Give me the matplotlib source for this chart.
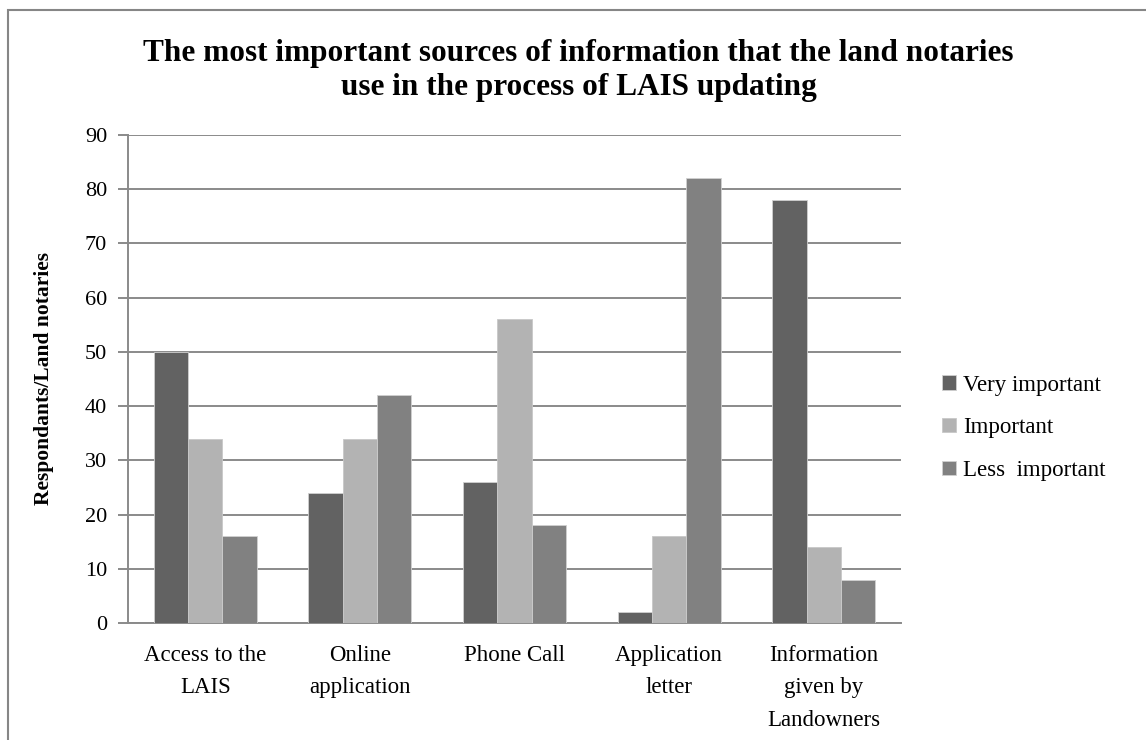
import matplotlib.pyplot as plt
import numpy as np
from matplotlib.patches import Rectangle

plt.rcParams['font.family'] = ['Liberation Serif', 'DejaVu Serif']

categories = ['Access to the\nLAIS', 'Online\napplication', 'Phone Call',
              'Application\nletter', 'Information\ngiven by\nLandowners']
series_names = ['Very important', 'Important', 'Less  important']
very_important = [50, 24, 26, 2, 78]
important = [34, 34, 56, 16, 14]
less_important = [16, 42, 18, 82, 8]
colors = ['#626262', '#b3b3b3', '#818181']

fig = plt.figure(figsize=(11.46, 7.40), dpi=100)
ax = fig.add_axes([0.1117, 0.1581, 0.6745, 0.6595])

# outer chart frame
fig.patches.append(Rectangle((8 / 1146, -0.05), 1.2, 1 - 10 / 740 + 0.05,
                             transform=fig.transFigure, fill=False,
                             edgecolor='#868686', linewidth=1.5))

x = np.arange(len(categories))
width = 1 / 4.5
for i, (vals, name) in enumerate(zip([very_important, important, less_important], series_names)):
    ax.bar(x + (i - 1) * width, vals, width, color=colors[i], label=name,
           edgecolor='#d0d0d0' if i != 1 else '#c8c8c8', linewidth=0.6, zorder=3)

ax.set_xlim(-0.5, len(categories) - 0.5)
ax.set_ylim(0, 90)
ax.set_yticks(range(0, 91, 10))
ax.yaxis.grid(True, color='#8a8a8a', linewidth=1.4, zorder=0)
ax.set_axisbelow(True)

for s in ['top', 'right']:
    ax.spines[s].set_visible(False)
for s in ['left', 'bottom']:
    ax.spines[s].set_color('#8a8a8a')
    ax.spines[s].set_linewidth(1.4)

ax.tick_params(axis='y', length=7, width=1.4, color='#8a8a8a', labelsize=16, pad=8)
ax.tick_params(axis='x', length=0, labelsize=16.5, pad=16)
ax.set_xticks(x)
ax.set_xticklabels(categories, linespacing=1.7)

ax.set_ylabel('Respondants/Land notaries', fontsize=15.5, fontweight='bold', labelpad=22)

fig.text(0.505, 0.947, 'The most important sources of information that the land notaries\n'
         'use in the process of LAIS updating', ha='center', va='top',
         fontsize=22.5, fontweight='bold', linespacing=1.2)

ax.legend(loc='center left', bbox_to_anchor=(1.027, 0.40), frameon=False,
          fontsize=16.5, handlelength=0.6, handleheight=0.6, handletextpad=0.3,
          labelspacing=0.95)

fig.savefig('out.png', dpi=100)
